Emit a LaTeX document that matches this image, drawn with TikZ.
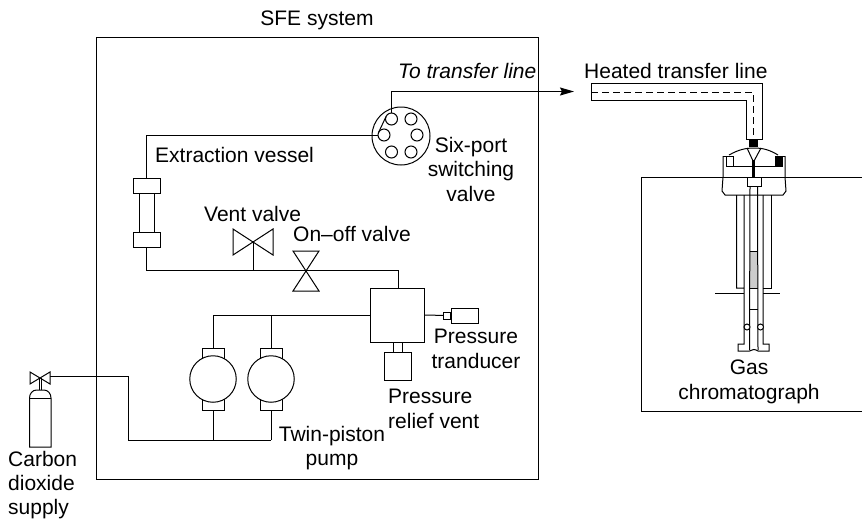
\documentclass[tikz,border=0pt]{standalone}
\usepackage{fontspec}
\setmainfont{Liberation Sans}
\usetikzlibrary{arrows.meta}

\tikzset{
    pipe/.style={line width=1pt},
    part/.style={draw, line width=1pt, fill=white, inner sep=0pt, outer sep=0pt},
    roundpart/.style={part, circle, minimum size=#1},
    lbl/.style={font=\fontsize{21}{24.5}\selectfont, inner sep=0pt, align=left},
}

\begin{document}
\begin{tikzpicture}[x=1pt, y=-1pt]

\definecolor{fillgray}{HTML}{CCCCCC}

\useasboundingbox (0,0) rectangle (862,520);

% ---------------------------------------------------------------- outer frames
\draw[pipe] (96,37) rectangle (538,479);
\draw[pipe] (862,177) -- (641,177) -- (641,411) -- (862,411);

% ---------------------------------------------------------------- six-port valve
\node[roundpart=58pt] (valve) at (401,136) {};
\foreach \name/\px/\py in {%
    pa/391.5/119, pb/411/119, pc/417/135, pd/411/152, pe/391.5/152, pf/384/135} {
  \node[roundpart=12pt] (\name) at (\px,\py) {};
}
\coordinate (out) at (391.5,91.5);
\coordinate (tip) at (574,91.5);
\draw[pipe, -{Stealth[length=14pt, width=8pt, inset=2pt]}] (pa.north) -- (out) -- (tip);
\draw[pipe] (pa.156) -- (pf.156);

% ---------------------------------------------------------------- extraction vessel
\node[part, minimum width=15pt, minimum height=39pt] (vessel) at (146.5,212.5) {};
\node[part, minimum width=27pt, minimum height=15pt] (captop) at (146.5,185.5) {};
\node[part, minimum width=27pt, minimum height=15pt] (capbot) at (146.5,239.5) {};
\coordinate (bendtop) at (146.5,135);
\coordinate (bendbot) at (146.5,270);
\coordinate (tee) at (398.5,270);
\draw[pipe] (pf.west) -- (bendtop) -- (captop);
\draw[pipe] (capbot) -- (bendbot) -- (tee);

% ---------------------------------------------------------------- valves
\coordinate (vent) at (253,242);
\draw[part] (233,229) -- (273,255) -- (273,229) -- (233,255) -- cycle;
\draw[part] (293,251) -- (319,291) -- (293,291) -- (319,251) -- cycle;
\draw[pipe] (vent) -- (vent |- bendbot);

% ---------------------------------------------------------------- block, transducer, relief
\node[part, minimum size=54pt] (block) at (397.5,315) {};
\draw[pipe] (tee) -- (block.north -| tee);
\node[part, minimum width=27pt, minimum height=15pt] (trans) at (464.5,315.5) {};
\node[part, minimum width=7pt, minimum height=7pt] (transneck) at (447,315.5) {};
\draw[pipe] (block.east) -- (transneck);
\node[part, minimum width=27pt, minimum height=28pt] (relief) at (397.5,366) {};
\node[part, minimum width=9pt, minimum height=10pt] (reliefneck) at (397.5,347) {};

% ---------------------------------------------------------------- pumps
\coordinate (feed) at (128,440);
\foreach \name/\px in {pumpa/213, pumpb/271} {
  \node[part, minimum width=22pt, minimum height=62pt] (\name cap) at (\px,379) {};
  \node[roundpart=46.5pt] (\name) at (\px,379) {};
  \draw[pipe] (\name cap.south) -- (\px,440);
  \draw[pipe] (\name cap.north) -- (\px,315);
}
\draw[pipe] (block.west) -- (213,315);
\draw[pipe] (feed) -- (271,440);

% ---------------------------------------------------------------- gas cylinder
\coordinate (bend) at (128,376);
\draw[pipe] (50,376) -- (bend) -- (feed);
\draw[part] (30,372) -- (50,384) -- (50,372) -- (30,384) -- cycle;
\draw[pipe] (39,378) -- (39,390) (41,378) -- (41,390);
\draw[part] (29.5,447) -- (29.5,398) arc[start angle=180, end angle=90, x radius=7pt, y radius=8pt]
    -- (44,390) arc[start angle=90, end angle=0, x radius=7pt, y radius=8pt] -- (51,447) -- cycle;
\draw[pipe] (29.5,398) -- (51,398);

% ---------------------------------------------------------------- heated transfer line
\draw[pipe] (591,83) -- (762,83) -- (762,139) -- (746,139) -- (746,100) -- (591,100) -- cycle;
\draw[pipe, dash pattern=on 7pt off 4pt] (591,92) -- (753,92) -- (753,139);

% ---------------------------------------------------------------- injector
\fill (749,139) rectangle (758,147);
\draw[pipe] (729,155) .. controls (738,150) and (745,148) .. (754,148)
    .. controls (763,148) and (770,150) .. (778,155);
\draw[pipe] (747,148) -- (753.5,162) -- (761,148);
\draw[line width=2.5pt] (753.5,160) -- (753.5,177);
\draw[pipe] (723,156) -- (733,156) (775,156) -- (785,156);
\draw[pipe] (726,166) -- (782,166);
\draw[pipe, fill=white] (726,156) rectangle (733,166);
\draw[pipe, fill=black] (775,156) rectangle (782,166);
\draw[pipe] (723,156) -- (723,177) -- (722,191) -- (725,195) -- (783,195) -- (786,191) -- (785,177) -- (785,156);
\draw[pipe, fill=white] (747,177) rectangle (761,186);

% ---------------------------------------------------------------- column
\fill[fillgray] (750,251) rectangle (757.5,288);
\draw[pipe] (750,186) -- (749.5,350) (757.5,186) -- (758,350);
\draw[pipe] (750,251) -- (757.5,251) (750,288) -- (757.5,288);
\draw[pipe] (736.5,195) -- (736.5,288) -- (744,288) (744,195) -- (744,344) -- (738,344)
    -- (738,351) -- (749.5,351) .. controls (752,349) and (755,349) .. (758,351)
    -- (769,351) -- (769,344) -- (763,344) -- (763,195);
\draw[pipe] (763,288) -- (771.5,288) -- (771.5,195);
\draw[pipe] (715,293) -- (744,293) (763,293) -- (780,293);
\draw[pipe] (750,309) -- (758,309);
\draw[pipe, fill=white] (747,327) circle[radius=3pt];
\draw[pipe, fill=white] (760.5,327) circle[radius=3pt];

% ---------------------------------------------------------------- labels
\node[lbl, anchor=base] (tsys) at (317,25) {SFE system};
\node[lbl, anchor=base west] (tline) at (398,78) {\itshape To transfer line};
\node[lbl, anchor=base west] (theat) at (584,78) {Heated transfer line};
\node[lbl, anchor=base west] (tvess) at (155,162) {Extraction vessel};
\node[lbl, anchor=north, align=center] (tsix) at (471,137) {Six-port\\switching\\valve};
\node[lbl, anchor=base west] (tvent) at (204,221) {Vent valve};
\node[lbl, anchor=base west] (ton) at (293,241) {On--off valve};
\node[lbl, anchor=north, align=center] (tpres) at (476,329) {Pressure\\tranducer};
\node[lbl, anchor=north west] (trel) at (388,389) {Pressure\\relief vent};
\node[lbl, anchor=north, align=center] (ttwin) at (332,426) {Twin-piston\\pump};
\node[lbl, anchor=north, align=center] (tgas) at (749,360) {Gas\\chromatograph};
\node[lbl, anchor=north west] (tco) at (8,451) {Carbon\\[-0.5pt]dioxide\\[-0.5pt]supply};

\end{tikzpicture}
\end{document}
